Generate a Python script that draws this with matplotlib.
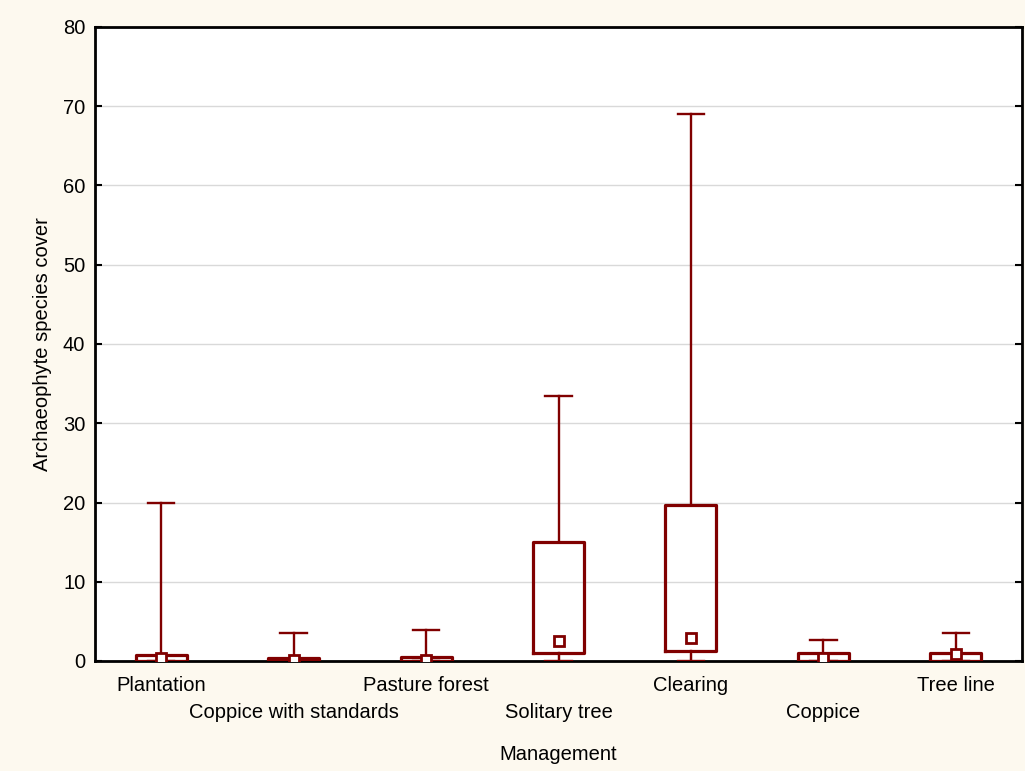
import matplotlib
matplotlib.use("Agg")
import matplotlib.pyplot as plt
from matplotlib import font_manager

# Management categories and summary statistics of archaeophyte cover
categories = ["Plantation", "Coppice with standards", "Pasture forest",
              "Solitary tree", "Clearing", "Coppice", "Tree line"]
minimum = [0.0, 0.0, 0.0, 0.0, 0.0, 0.0, 0.0]
q1 = [0.0, 0.0, 0.0, 1.0, 1.3, 0.0, 0.0]
median = [0.4, 0.1, 0.1, 2.5, 2.9, 0.4, 0.9]
q3 = [0.8, 0.4, 0.5, 15.0, 19.7, 1.0, 1.0]
maximum = [20.0, 3.5, 3.9, 33.5, 69.0, 2.65, 3.5]
y_ticks = [0, 10, 20, 30, 40, 50, 60, 70, 80]

available = {f.name for f in font_manager.fontManager.ttflist}
family = "Liberation Sans Narrow" if "Liberation Sans Narrow" in available else "Liberation Sans"
plt.rcParams["font.family"] = [family, "DejaVu Sans"]

bg = "#fdf9ef"
red = "#800000"
fs = 14.5

fig = plt.figure(figsize=(10.25, 7.71), dpi=100, facecolor=bg)
ax = fig.add_axes([95 / 1025, 1 - 661 / 771, 927 / 1025, 634 / 771])
ax.set_facecolor("white")

positions = [i + 0.5 for i in range(len(categories))]
stats = []
for i, name in enumerate(categories):
    stats.append(dict(label=name, whislo=minimum[i], q1=q1[i], med=median[i],
                      q3=q3[i], whishi=maximum[i], fliers=[]))

ax.bxp(stats, positions=positions, widths=0.385, showfliers=False,
       boxprops=dict(color=red, linewidth=2.3),
       whiskerprops=dict(color=red, linewidth=1.7),
       capprops=dict(color=red, linewidth=1.7),
       medianprops=dict(linewidth=0),
       capwidths=0.2, zorder=3)
ax.plot(positions, median, linestyle="none", marker="s", markersize=6.5,
        markerfacecolor="white", markeredgecolor=red, markeredgewidth=2.0,
        zorder=4)

ax.set_xlim(0, len(categories))
ax.set_ylim(0, 80)
ax.set_yticks(y_ticks)
ax.set_yticklabels([str(v) for v in y_ticks], fontsize=fs)
ax.yaxis.grid(True, color="#d9d9d9", linewidth=1.0, zorder=0)
ax.set_axisbelow(True)

ax.set_xticks(positions)
ax.set_xticklabels([])
for i, (p, name) in enumerate(zip(positions, categories)):
    dy = 0.024 if i % 2 == 0 else 0.067
    ax.text(p, -dy, name, transform=ax.get_xaxis_transform(),
            ha="center", va="top", fontsize=fs)

ax.tick_params(axis="both", direction="in", length=5, width=1.5,
               right=True, top=False, colors="black")
ax.tick_params(axis="y", pad=7)
for s in ax.spines.values():
    s.set_linewidth(2)
    s.set_color("black")

ax.set_ylabel("Archaeophyte species cover", fontsize=fs, labelpad=8)
fig.text((95 + 927 / 2) / 1025, 1 - 754 / 771, "Management",
         ha="center", va="center", fontsize=fs)

fig.savefig("out.png", dpi=100, facecolor=bg)
